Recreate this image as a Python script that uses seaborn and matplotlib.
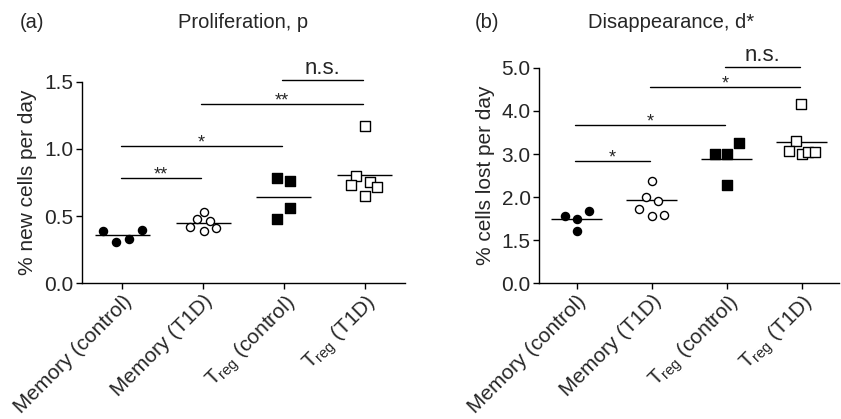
import numpy as np
import pandas as pd
import matplotlib
matplotlib.use("Agg")
import matplotlib.pyplot as plt
import matplotlib.transforms as mtransforms
import seaborn as sns

# ---------------------------------------------------------------
# data
# ---------------------------------------------------------------
groups = ["Memory (control)", "Memory (T1D)",
          "$T_{reg}$ (control)", "$T_{reg}$ (T1D)"]

# (a) proliferation, % new cells per day
prolif_mem_ctrl = [0.39, 0.31, 0.33, 0.40]
prolif_mem_t1d = [0.42, 0.48, 0.53, 0.46, 0.39, 0.41]
prolif_treg_ctrl = [0.78, 0.76, 0.56, 0.48]
prolif_treg_t1d = [1.17, 0.80, 0.73, 0.75, 0.72, 0.65]

# (b) disappearance, % cells lost per day
disapp_mem_ctrl = [1.78, 1.75, 1.84, 1.61]
disapp_mem_t1d = [1.86, 2.01, 2.38, 1.96, 1.78, 1.79]
disapp_treg_ctrl = [3.00, 2.99, 3.26, 2.27]
disapp_treg_t1d = [4.15, 3.30, 3.07, 3.01, 3.05, 3.05]

# significance brackets: (from group, to group, height, label)
prolif_sig = [(0, 1, 0.78, "**"), (0, 2, 1.02, "*"),
              (1, 3, 1.335, "**"), (2, 3, 1.515, "n.s.")]
disapp_sig = [(0, 1, 2.83, "*"), (0, 2, 3.68, "*"),
              (1, 3, 4.56, "*"), (2, 3, 5.13, "n.s.")]

# y ticks of panel (b) are not evenly spaced in value
disapp_ticks = [0.0, 1.5, 2.0, 3.0, 4.0, 5.0]

# ---------------------------------------------------------------
# layout (horizontal scatter of the points inside each group)
# ---------------------------------------------------------------
prolif_dx = [[-0.24, -0.08, 0.08, 0.24],
             [-0.16, -0.07, 0.01, 0.09, 0.01, 0.16],
             [-0.08, 0.08, 0.08, -0.08],
             [0.0, -0.10, -0.17, 0.07, 0.15, 0.0]]
disapp_dx = [[-0.16, 0.01, 0.17, 0.01],
             [-0.17, -0.08, 0.01, 0.08, 0.0, 0.16],
             [-0.15, 0.01, 0.17, 0.01],
             [-0.01, -0.08, -0.17, 0.0, 0.08, 0.17]]

styles = [("o", "black", 34), ("o", "white", 34),
          ("s", "black", 44), ("s", "white", 44)]


def long_form(values, offsets):
    rows = []
    for i, (vals, dxs) in enumerate(zip(values, offsets)):
        for v, dx in zip(vals, dxs):
            rows.append({"group": i, "pos": i + dx, "value": v})
    return pd.DataFrame(rows)


def draw_panel(ax, df, sig, ylabel):
    for i, (marker, fc, s) in enumerate(styles):
        sub = df[df["group"] == i]
        sns.scatterplot(data=sub, x="pos", y="value", ax=ax, marker=marker,
                        s=s, facecolor=fc, edgecolor="black", linewidth=1,
                        legend=False, clip_on=False, zorder=3)
        ax.hlines(sub["value"].mean(), i - 0.34, i + 0.34, color="black",
                  lw=1, zorder=2)
    for a, b, h, lab in sig:
        ax.plot([a - 0.02, b - 0.02], [h, h], color="black", lw=1,
                clip_on=False)
        off = 4 if lab == "n.s." else -1
        fs = 16 if lab == "n.s." else 13
        ax.annotate(lab, ((a + b) / 2 - 0.02, h), xytext=(0, off),
                    textcoords="offset points", ha="center",
                    va="baseline", fontsize=fs, annotation_clip=False)
    ax.set_xlim(-0.5, 3.5)
    ax.set_xticks(range(4))
    ax.set_xticklabels(groups, rotation=45, ha="right",
                       rotation_mode="anchor", fontsize=15)
    shift = mtransforms.ScaledTranslation(6 / 72, 0, ax.figure.dpi_scale_trans)
    for lab in ax.get_xticklabels():
        lab.set_transform(lab.get_transform() + shift)
    ax.set_xlabel("")
    ax.set_ylabel(ylabel, fontsize=15, labelpad=5)
    ax.tick_params(axis="both", labelsize=15, length=4, width=1, pad=2,
                   color="black")
    for sp in ["left", "bottom"]:
        ax.spines[sp].set_linewidth(1)
        ax.spines[sp].set_color("black")
    sns.despine(ax=ax)


sns.set_style("ticks")
plt.rcParams["font.family"] = ["Liberation Sans", "DejaVu Sans"]
plt.rcParams["mathtext.fontset"] = "custom"
plt.rcParams["mathtext.rm"] = "Liberation Sans"
plt.rcParams["mathtext.it"] = "Liberation Sans"
plt.rcParams["mathtext.default"] = "regular"

fig = plt.figure(figsize=(8.41, 4.19), dpi=100)
ax1 = fig.add_axes([0.0975, 0.324, 0.384, 0.481])
ax2 = fig.add_axes([0.641, 0.324, 0.357, 0.514])

# panel (a)
prolif = long_form([prolif_mem_ctrl, prolif_mem_t1d,
                    prolif_treg_ctrl, prolif_treg_t1d], prolif_dx)
draw_panel(ax1, prolif, prolif_sig, "% new cells per day")
ax1.set_ylim(0, 1.5)
ax1.set_yticks([0.0, 0.5, 1.0, 1.5])
ax1.set_yticklabels(["0.0", "0.5", "1.0", "1.5"])

# panel (b): piecewise axis so that the labelled ticks are evenly spaced
tick_pos = np.arange(len(disapp_ticks) + 1)
tick_val = disapp_ticks + [10.0]
ax2.set_yscale("function",
               functions=(lambda v: np.interp(v, tick_val, tick_pos),
                          lambda p: np.interp(p, tick_pos, tick_val)))
disapp = long_form([disapp_mem_ctrl, disapp_mem_t1d,
                    disapp_treg_ctrl, disapp_treg_t1d], disapp_dx)
draw_panel(ax2, disapp, disapp_sig, "% cells lost per day")
ax2.set_ylim(0, 5)
ax2.set_yticks(disapp_ticks)
ax2.set_yticklabels([f"{t:.1f}" for t in disapp_ticks])
ax2.minorticks_off()

fig.text(0.024, 1 - 22 / 419, "(a)", fontsize=14.5, va="center")
fig.text(0.289, 1 - 22 / 419, "Proliferation, p", fontsize=14.5,
         va="center", ha="center")
fig.text(0.565, 1 - 22 / 419, "(b)", fontsize=14.5, va="center")
fig.text(0.798, 1 - 22 / 419, "Disappearance, d*", fontsize=14.5,
         va="center", ha="center")

fig.savefig("out.png", dpi=100)
